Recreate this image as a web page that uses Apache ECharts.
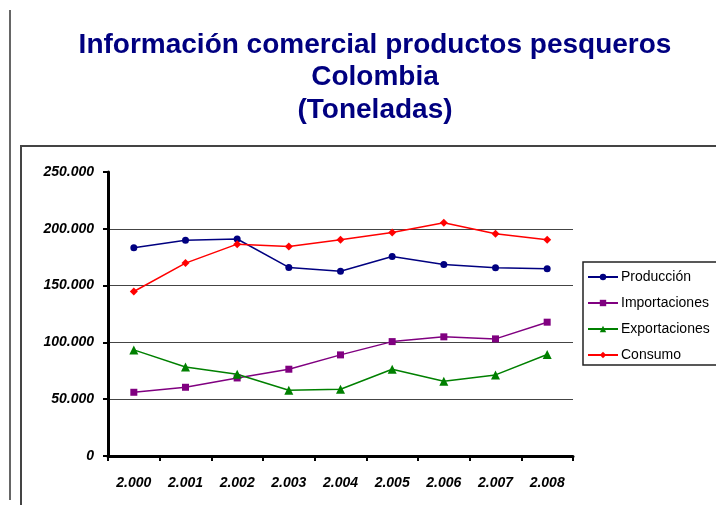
<!DOCTYPE html>
<html>
<head>
<meta charset="utf-8">
<script src="https://cdn.jsdelivr.net/npm/echarts@6/dist/echarts.min.js"></script>
<style>html,body{margin:0;padding:0;background:#fff}#c{width:716px;height:505px}</style>
</head>
<body>
<div id="c"></div>
<script>
const titleLines = ['Información comercial productos pesqueros', 'Colombia', '(Toneladas)'];
const years = ['2.000', '2.001', '2.002', '2.003', '2.004', '2.005', '2.006', '2.007', '2.008'];
const yTicks = ['0', '50.000', '100.000', '150.000', '200.000', '250.000'];
const produccion = [183300, 190000, 191000, 166000, 162700, 175600, 168600, 165700, 164800];
const importaciones = [56100, 60500, 68700, 76400, 89000, 100700, 104900, 103100, 117800];
const exportaciones = [93400, 78400, 72000, 57900, 58800, 76400, 65800, 71400, 89300];
const consumo = [144800, 169800, 186500, 184500, 190300, 196800, 205300, 195600, 190300];

const narrow = '"Liberation Sans Narrow", "Arial Narrow", "Liberation Sans", Arial, sans-serif';
const chart = echarts.init(document.getElementById('c'));
function mk(name, data, color, symbol, size) {
  return {
    name, type: 'line', data, symbol, symbolSize: size,
    lineStyle: { color, width: 1.5 }, itemStyle: { color },
    emphasis: { disabled: true }, animation: false
  };
}
chart.setOption({
  animation: false,
  graphic: [
    { type: 'line', shape: { x1: 10, y1: 10, x2: 10, y2: 500 }, style: { stroke: '#666', lineWidth: 2 } },
    { type: 'rect', shape: { x: 21, y: 146, width: 720, height: 380 }, style: { fill: 'none', stroke: '#444', lineWidth: 2 } },
    { type: 'rect', shape: { x: 583, y: 262, width: 150, height: 103 }, style: { fill: '#fff', stroke: '#222', lineWidth: 1.5 }, z: 0 },
    { type: 'text', x: 375, y: 29, style: { text: titleLines.join('\n'), fill: '#000080', font: 'bold 28px "Liberation Sans", Arial, sans-serif', align: 'center', lineHeight: 32.5 } }
  ],
  grid: { left: 108, top: 172, right: 143, bottom: 49 },
  legend: {
    orient: 'vertical', left: 587, top: 270, padding: 0, itemWidth: 30, itemHeight: 8, itemGap: 12,
    textStyle: { fontFamily: narrow, fontSize: 14, color: '#000', padding: [0, 0, 0, -2] },
    data: ['Producción', 'Importaciones', 'Exportaciones', 'Consumo'], z: 10
  },
  xAxis: {
    type: 'category', data: years, boundaryGap: true,
    axisLine: { lineStyle: { color: '#000', width: 3 } },
    axisTick: { show: true, length: 5, lineStyle: { color: '#000', width: 2 } },
    axisLabel: { fontFamily: narrow, fontWeight: 'bold', fontStyle: 'italic', fontSize: 14, color: '#000', margin: 20 }
  },
  yAxis: {
    type: 'value', min: 0, max: 250000, interval: 50000,
    axisLine: { show: true, lineStyle: { color: '#000', width: 3 } },
    axisTick: { show: true, length: 5, lineStyle: { color: '#000', width: 2 } },
    splitLine: { show: true, showMaxLine: false, lineStyle: { color: '#444', width: 1 } },
    axisLabel: { fontFamily: narrow, fontWeight: 'bold', fontStyle: 'italic', fontSize: 14, color: '#000', margin: 14,
      formatter: (v) => yTicks[Math.round(v / 50000)] }
  },
  series: [
    mk('Producción', produccion, '#000080', 'circle', 7),
    mk('Importaciones', importaciones, '#800080', 'rect', 7),
    mk('Exportaciones', exportaciones, '#008000', 'triangle', 9),
    mk('Consumo', consumo, '#ff0000', 'diamond', 8)
  ]
});
</script>
</body>
</html>
